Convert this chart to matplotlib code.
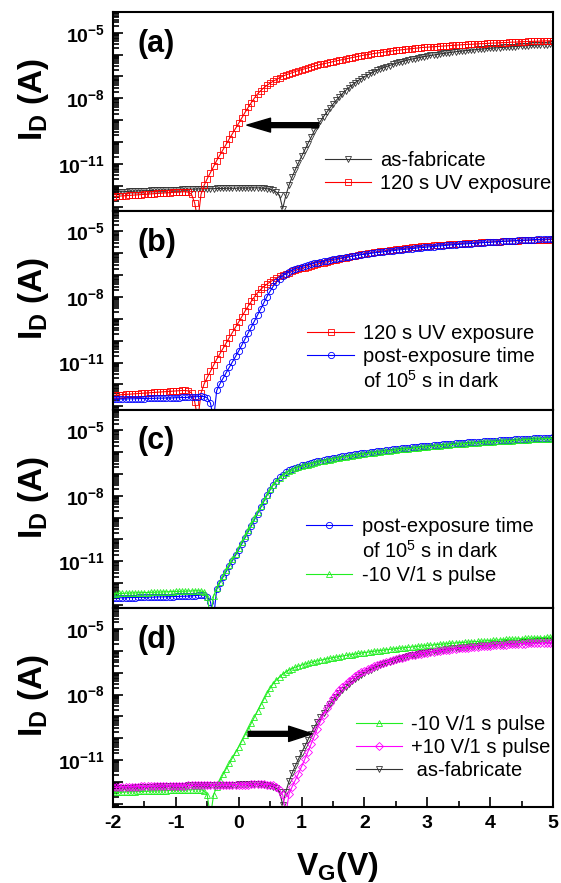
import numpy as np
import matplotlib
matplotlib.use('Agg')
import matplotlib.pyplot as plt
from matplotlib.lines import Line2D
from matplotlib.ticker import LogLocator, FuncFormatter, MultipleLocator, NullFormatter

plt.rcParams['font.family'] = ['Liberation Sans', 'DejaVu Sans']
plt.rcParams['mathtext.fontset'] = 'custom'
plt.rcParams['mathtext.rm'] = 'Liberation Sans'
plt.rcParams['mathtext.bf'] = 'Liberation Sans:bold'
plt.rcParams['mathtext.it'] = 'Liberation Sans:italic'
plt.rcParams['axes.unicode_minus'] = False

# gate sweep -2 V .. 5 V, 0.05 V step
vg = np.round(np.arange(141) * 0.05 - 2, 2)

# log10(I_D), one value per sweep point
as_fab = [
    -12.30, -12.29, -12.28, -12.28, -12.27, -12.26, -12.26, -12.25, -12.24, -12.24,
    -12.23, -12.23, -12.22, -12.22, -12.21, -12.21, -12.20, -12.20, -12.19, -12.19,
    -12.18, -12.18, -12.17, -12.17, -12.16, -12.16, -12.16, -12.15, -12.15, -12.15,
    -12.14, -12.14, -12.14, -12.13, -12.13, -12.13, -12.12, -12.12, -12.12, -12.12,
    -12.11, -12.11, -12.11, -12.11, -12.10, -12.10, -12.10, -12.11, -12.12, -12.14,
    -12.17, -12.22, -12.30, -12.45, -13.05, -12.45, -11.98, -11.60, -11.27, -10.96,
    -10.66, -10.37, -10.08, -9.79, -9.51, -9.27, -9.05, -8.84, -8.64, -8.45,
    -8.27, -8.10, -7.94, -7.79, -7.65, -7.52, -7.40, -7.29, -7.19, -7.10,
    -7.01, -6.93, -6.86, -6.79, -6.72, -6.66, -6.60, -6.55, -6.50, -6.45,
    -6.40, -6.36, -6.32, -6.28, -6.24, -6.21, -6.18, -6.15, -6.12, -6.09,
    -6.07, -6.04, -6.02, -6.00, -5.97, -5.95, -5.93, -5.91, -5.89, -5.87,
    -5.85, -5.84, -5.82, -5.81, -5.79, -5.78, -5.76, -5.75, -5.74, -5.72,
    -5.71, -5.70, -5.69, -5.68, -5.67, -5.66, -5.65, -5.64, -5.63, -5.62,
    -5.61, -5.60, -5.59, -5.58, -5.57, -5.56, -5.56, -5.55, -5.54, -5.53,
    -5.52]

uv_120s = [
    -12.50, -12.49, -12.48, -12.47, -12.46, -12.45, -12.44, -12.43, -12.42, -12.41,
    -12.40, -12.39, -12.38, -12.37, -12.36, -12.35, -12.34, -12.33, -12.32, -12.31,
    -12.30, -12.29, -12.28, -12.28, -12.30, -12.40, -12.80, -13.60, -12.40, -11.98,
    -11.68, -11.40, -11.12, -10.85, -10.60, -10.35, -10.10, -9.86, -9.62, -9.38,
    -9.14, -8.90, -8.65, -8.42, -8.20, -7.99, -7.80, -7.65, -7.52, -7.41,
    -7.31, -7.22, -7.14, -7.06, -6.99, -6.93, -6.88, -6.83, -6.78, -6.73,
    -6.69, -6.65, -6.61, -6.57, -6.53, -6.49, -6.45, -6.42, -6.39, -6.36,
    -6.32, -6.29, -6.26, -6.23, -6.20, -6.17, -6.14, -6.11, -6.08, -6.05,
    -6.02, -6.00, -5.98, -5.95, -5.93, -5.91, -5.89, -5.87, -5.85, -5.83,
    -5.81, -5.79, -5.78, -5.76, -5.74, -5.73, -5.71, -5.70, -5.68, -5.67,
    -5.66, -5.65, -5.64, -5.63, -5.62, -5.61, -5.60, -5.59, -5.58, -5.57,
    -5.56, -5.55, -5.54, -5.53, -5.53, -5.52, -5.51, -5.50, -5.50, -5.49,
    -5.48, -5.47, -5.47, -5.46, -5.45, -5.45, -5.44, -5.43, -5.43, -5.42,
    -5.41, -5.41, -5.40, -5.40, -5.39, -5.39, -5.38, -5.38, -5.37, -5.37,
    -5.36]

post_dark = [
    -12.68, -12.68, -12.67, -12.67, -12.67, -12.66, -12.66, -12.66, -12.65, -12.65,
    -12.65, -12.64, -12.64, -12.64, -12.63, -12.63, -12.63, -12.62, -12.62, -12.62,
    -12.61, -12.61, -12.60, -12.60, -12.59, -12.58, -12.57, -12.56, -12.55, -12.56,
    -12.62, -12.85, -13.60, -12.28, -11.98, -11.72, -11.47, -11.22, -10.97, -10.72,
    -10.47, -10.20, -9.93, -9.66, -9.38, -9.10, -8.82, -8.53, -8.25, -7.98,
    -7.73, -7.50, -7.31, -7.16, -7.03, -6.93, -6.84, -6.77, -6.71, -6.66,
    -6.61, -6.57, -6.53, -6.49, -6.45, -6.42, -6.39, -6.36, -6.33, -6.30,
    -6.27, -6.25, -6.22, -6.20, -6.17, -6.15, -6.13, -6.11, -6.08, -6.06,
    -6.04, -6.02, -6.00, -5.98, -5.96, -5.95, -5.93, -5.91, -5.89, -5.88,
    -5.86, -5.84, -5.83, -5.81, -5.80, -5.78, -5.77, -5.75, -5.74, -5.73,
    -5.71, -5.70, -5.69, -5.67, -5.66, -5.65, -5.64, -5.62, -5.61, -5.60,
    -5.59, -5.58, -5.57, -5.56, -5.55, -5.54, -5.53, -5.52, -5.51, -5.50,
    -5.49, -5.48, -5.47, -5.46, -5.45, -5.44, -5.43, -5.43, -5.42, -5.41,
    -5.40, -5.39, -5.39, -5.38, -5.37, -5.36, -5.36, -5.35, -5.34, -5.34,
    -5.33]

neg_pulse = [
    -12.48, -12.48, -12.47, -12.47, -12.46, -12.46, -12.45, -12.45, -12.44, -12.44,
    -12.43, -12.43, -12.42, -12.42, -12.41, -12.41, -12.40, -12.40, -12.39, -12.39,
    -12.38, -12.38, -12.37, -12.37, -12.36, -12.36, -12.35, -12.35, -12.36, -12.40,
    -12.62, -13.60, -12.60, -12.22, -11.93, -11.66, -11.40, -11.15, -10.90, -10.65,
    -10.40, -10.13, -9.86, -9.59, -9.31, -9.03, -8.75, -8.48, -8.21, -7.95,
    -7.71, -7.50, -7.33, -7.19, -7.07, -6.97, -6.88, -6.81, -6.75, -6.70,
    -6.65, -6.61, -6.57, -6.53, -6.49, -6.46, -6.43, -6.40, -6.37, -6.34,
    -6.31, -6.29, -6.26, -6.24, -6.21, -6.19, -6.17, -6.15, -6.12, -6.10,
    -6.08, -6.06, -6.04, -6.02, -6.00, -5.99, -5.97, -5.95, -5.93, -5.92,
    -5.90, -5.88, -5.87, -5.85, -5.84, -5.82, -5.81, -5.79, -5.78, -5.77,
    -5.75, -5.74, -5.73, -5.71, -5.70, -5.69, -5.68, -5.66, -5.65, -5.64,
    -5.63, -5.62, -5.61, -5.60, -5.59, -5.58, -5.57, -5.56, -5.55, -5.54,
    -5.53, -5.52, -5.51, -5.50, -5.49, -5.48, -5.47, -5.47, -5.46, -5.45,
    -5.44, -5.43, -5.43, -5.42, -5.41, -5.40, -5.40, -5.39, -5.38, -5.38,
    -5.37]

pos_pulse = [
    -12.25, -12.25, -12.24, -12.24, -12.23, -12.23, -12.22, -12.22, -12.22, -12.21,
    -12.21, -12.21, -12.20, -12.20, -12.20, -12.19, -12.19, -12.19, -12.18, -12.18,
    -12.18, -12.17, -12.17, -12.17, -12.16, -12.16, -12.16, -12.15, -12.15, -12.15,
    -12.15, -12.14, -12.14, -12.14, -12.14, -12.13, -12.13, -12.13, -12.13, -12.12,
    -12.12, -12.12, -12.12, -12.12, -12.11, -12.11, -12.11, -12.11, -12.11, -12.12,
    -12.13, -12.16, -12.22, -12.35, -12.60, -13.50, -12.55, -12.22, -11.92, -11.62,
    -11.30, -10.97, -10.63, -10.28, -9.92, -9.57, -9.23, -8.92, -8.64, -8.40,
    -8.18, -7.98, -7.80, -7.64, -7.50, -7.38, -7.27, -7.17, -7.08, -6.99,
    -6.91, -6.84, -6.77, -6.71, -6.65, -6.60, -6.55, -6.50, -6.46, -6.42,
    -6.38, -6.34, -6.31, -6.27, -6.24, -6.21, -6.18, -6.16, -6.13, -6.11,
    -6.08, -6.06, -6.04, -6.02, -6.00, -5.98, -5.96, -5.94, -5.92, -5.91,
    -5.89, -5.88, -5.86, -5.85, -5.83, -5.82, -5.81, -5.80, -5.78, -5.77,
    -5.76, -5.75, -5.74, -5.73, -5.72, -5.71, -5.70, -5.70, -5.69, -5.68,
    -5.67, -5.67, -5.66, -5.66, -5.65, -5.65, -5.64, -5.64, -5.63, -5.63,
    -5.62]

curves = {
    'as_fab': (as_fab, '#333333', 'v', 'as-fabricate'),
    'uv': (uv_120s, '#ff0000', 's', '120 s UV exposure'),
    'dark': (post_dark, '#0000ff', 'o', 'post-exposure time'),
    'neg': (neg_pulse, '#22ee22', '^', '-10 V/1 s pulse'),
    'pos': (pos_pulse, '#ff00ff', 'D', '+10 V/1 s pulse'),
}

panels = [
    ('(a)', ['as_fab', 'uv'], ['as_fab', 'uv'], (0.482, 0.30)),
    ('(b)', ['uv', 'dark'], ['uv', 'dark', None], (0.442, 0.43)),
    ('(c)', ['dark', 'neg'], ['dark', None, 'neg'], (0.439, 0.46)),
    ('(d)', ['as_fab', 'neg', 'pos'], ['neg', 'pos', 'as_fab'], (0.552, 0.465)),
]

fig = plt.figure(figsize=(5.61, 8.83), dpi=100)
left, width = 113 / 561, 440 / 561
bottom0 = 76 / 883
h = (871 - 76) / 883 / 4


def exp_fmt(v, pos):
    e = int(round(np.log10(v)))
    if e in (-5, -8, -11):
        return r'$\mathbf{10^{%d}}$' % e
    return ''


axes = []
for i, (tag, draw, leg, anchor) in enumerate(panels):
    ax = fig.add_axes([left, bottom0 + (3 - i) * h, width, h])
    lines = {}
    for k in draw:
        vals, col, mk, lab = curves[k]
        ms = 4.0 if mk == 'D' else 4.5
        ln, = ax.plot(vg, 10.0 ** np.array(vals), color=col, lw=0.8, marker=mk,
                      ms=ms, mfc='none', mec=col, mew=0.6,
                      zorder=1 if k == 'as_fab' else 2)
        lines[k] = ln
    ax.set_yscale('log')
    ax.set_xlim(-2, 5)
    ax.set_ylim(10 ** -13.15, 10 ** -4.05)
    ax.yaxis.set_major_locator(LogLocator(base=10, numticks=20))
    ax.yaxis.set_minor_locator(LogLocator(base=10, subs=np.arange(2, 10), numticks=20))
    ax.yaxis.set_major_formatter(FuncFormatter(exp_fmt))
    ax.yaxis.set_minor_formatter(NullFormatter())
    ax.xaxis.set_major_locator(MultipleLocator(1))
    ax.xaxis.set_minor_locator(MultipleLocator(0.5))
    ax.tick_params(which='both', direction='in', width=1.2, right=False, top=False)
    ax.tick_params(which='major', length=7)
    ax.tick_params(which='minor', length=4)
    ax.tick_params(axis='y', labelsize=14, pad=6)
    for s in ax.spines.values():
        s.set_linewidth(1.5)
    if i < 3:
        ax.tick_params(axis='x', which='both', bottom=False, labelbottom=False)
    else:
        ax.tick_params(axis='x', labelsize=14, pad=6)
        for t in ax.get_xticklabels():
            t.set_fontweight('bold')

    ax.text(0.055, 0.84, tag, transform=ax.transAxes, fontsize=22,
            fontweight='bold', ha='left', va='center')
    ax.set_ylabel(r'I$_{\mathbf{D}}$ (A)', fontsize=24, fontweight='bold')
    ax.yaxis.set_label_coords(-0.14, 0.56)

    handles, labels = [], []
    for k in leg:
        if k is None:
            handles.append(Line2D([], [], linestyle='none', marker='none'))
            labels.append(r'of 10$^{5}$ s in dark')
        else:
            handles.append(lines[k])
            lab = curves[k][3]
            if tag == '(d)' and k == 'as_fab':
                lab = ' ' + lab
            labels.append(lab)
    ax.legend(handles, labels, loc='upper left', bbox_to_anchor=anchor,
              frameon=False, fontsize=14.5, handlelength=2.3, handletextpad=0.45,
              labelspacing=0.2, borderpad=0, borderaxespad=0, numpoints=1)
    axes.append(ax)

# shift arrows
axes[0].annotate('', xy=(0.13, 10 ** -9.23), xytext=(1.27, 10 ** -9.23),
                 arrowprops=dict(facecolor='black', edgecolor='black', width=3.5,
                                 headwidth=10, headlength=17))
axes[3].annotate('', xy=(1.17, 10 ** -9.8), xytext=(0.15, 10 ** -9.8),
                 arrowprops=dict(facecolor='black', edgecolor='black', width=3.5,
                                 headwidth=11, headlength=17))

fig.text(338 / 561, 1 - 875 / 883, r'V$_{\mathbf{G}}$(V)', fontsize=23,
         fontweight='bold', ha='center', va='baseline')

fig.savefig('out.png', dpi=100)
